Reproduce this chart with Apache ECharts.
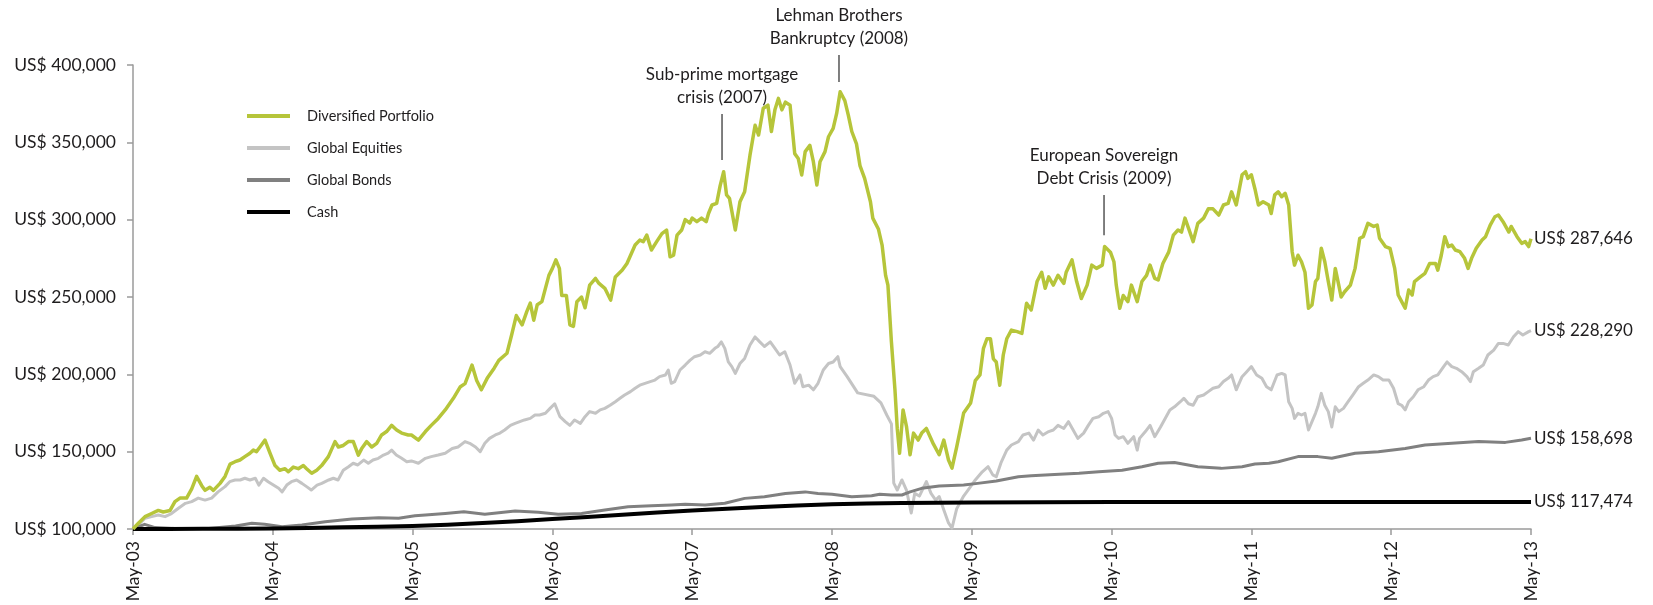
<!DOCTYPE html>
<html><head><meta charset="utf-8">
<script src="https://cdn.jsdelivr.net/npm/echarts@6/dist/echarts.min.js"></script>
<style>html,body{margin:0;padding:0;background:#fff}#c{width:1653px;height:605px}</style>
</head><body><div id="c"></div>
<script>
// ---- data (months since May-03, values in US$ thousands) ----
const xTickLabels = ['May-03','May-04','May-05','May-06','May-07','May-08','May-09','May-10','May-11','May-12','May-13'];
const yTickLabels = ['US$ 100,000','US$ 150,000','US$ 200,000','US$ 250,000','US$ 300,000','US$ 350,000','US$ 400,000'];
const seriesNames = ['Diversified Portfolio','Global Equities','Global Bonds','Cash'];
const endLabels = ['US$ 287,646','US$ 228,290','US$ 158,698','US$ 117,474'];

const divMonths = [0,0.46,1.03,1.6,2.17,2.6,3.18,3.6,4.03,4.6,5.04,5.46,5.9,6.18,6.6,6.9,7.47,7.9,8.33,8.76,9.18,9.6,10.04,10.33,10.6,10.9,11.33,11.76,12.19,12.6,13.05,13.33,13.76,14.19,14.62,14.9,15.34,15.77,16.19,16.77,17.34,17.63,18.05,18.48,18.91,19.34,19.63,20.06,20.49,20.92,21.34,21.77,22.2,22.63,23.06,23.63,23.9,24.5,25.1,25.6,26.2,26.8,27.5,28.1,28.5,29.1,29.5,29.9,30.4,31,31.4,32.1,32.5,32.9,33.4,33.8,34.1,34.4,34.7,35.1,35.4,35.7,36,36.3,36.6,36.8,37.2,37.5,37.8,38.1,38.5,38.8,39.2,39.7,40,40.5,41,41.4,42,42.4,43.1,43.5,43.8,44.1,44.5,44.95,45.4,45.8,46.1,46.4,46.7,47.1,47.4,47.8,48,48.4,48.8,49.2,49.4,49.7,50.1,50.4,50.7,50.95,51.2,51.7,52.1,52.5,52.96,53.4,53.7,54.1,54.5,54.8,55.1,55.4,55.7,56,56.4,56.8,57.1,57.4,57.7,58.1,58.4,58.7,58.97,59.4,59.7,60.1,60.4,60.7,61.1,61.4,61.7,62.1,62.4,62.8,63.3,63.5,63.98,64.3,64.6,64.8,65.1,65.4,65.6,65.8,66.1,66.4,66.7,67,67.4,67.7,68.1,68.4,68.7,69.2,69.6,70,70.3,70.7,71.3,71.9,72.3,72.7,73,73.3,73.6,73.85,74.1,74.4,74.7,75,75.4,75.9,76.3,76.7,77.1,77.6,78,78.3,78.6,79,79.4,79.9,80.1,80.6,81,81.4,81.9,82.3,82.7,83.2,83.4,83.9,84.2,84.4,84.7,85,85.4,85.7,86.2,86.6,87,87.3,87.7,88,88.4,88.9,89.3,89.7,90,90.3,90.6,91,91.4,91.9,92.3,92.7,93.2,93.6,94,94.3,94.7,95.2,95.5,95.7,96,96.3,96.6,97,97.5,97.7,98,98.3,98.6,98.9,99.2,99.5,99.7,100,100.3,100.6,100.9,101.2,101.5,101.7,102,102.3,102.6,102.9,103.2,103.5,103.7,104,104.5,104.9,105.3,105.6,106,106.5,106.8,107,107.5,107.9,108.3,108.6,108.9,109.2,109.5,109.8,110,110.5,110.9,111.3,111.8,112,112.3,112.6,112.9,113.2,113.5,113.9,114.3,114.6,114.9,115.3,115.8,116.1,116.5,116.9,117.2,117.6,118.1,118.3,118.8,119.2,119.5,119.8,120];
const divValues = [100,103.7,108,110,112,111,112,117.7,120,120,126,134,128,125,127,125,129.5,134,142,143.5,144.6,146.8,149,151,150,153,157.5,149,141,138,139,137,140,139,141,139,136,138,141,146.8,156.5,153,154,156.5,156.5,147.8,152,156.5,153,155.4,160.8,163,167,164,162,160.8,160.8,157.5,163,167,171.5,177,184.5,192,194,206,196,190,197.4,204,209,213.6,225.4,238,232,240.5,246,235,245,247,255.6,264,268.5,274,268.5,251,251,232,231,247,250,243,257.7,262,258.8,255.6,248,263,267.4,271.7,283.6,286.8,285.8,290,280.4,285.8,291,293.3,276,277,290,293.3,300,297.8,301,298.7,301,298.7,304,309.5,310.5,322,331,316,313.8,293.3,311.6,318,341.7,361,354.7,372,374,357,371,378.4,371,376,374,342.7,339.6,328.9,344,348,337.5,322.4,337.5,344,353.6,359,368.7,382.7,377,367.6,357,349,335,326.7,311.6,301,294,283.6,264,257.7,221,190.5,165,149,177,166,148,162,157.5,162,165,160,155,148,157.5,144.6,139.4,153,175,181.5,196,199.6,216.8,223,223,210,208,193,212.5,223,228.6,227.6,226.5,246,241.6,260,266,255.6,263,257.7,264,258.8,266,274,260,249,257.7,270.6,268.5,270.6,282.6,279,272.8,257.7,242.7,251,247,257.7,247,260,264,270.6,262,261,271.7,279,290,293.3,292,301,294.5,285.8,297.6,301,307,307,303,309.5,310.5,318,309.5,329,331,326.7,329,320,309.5,311.6,309.5,304,316,318,314.8,317,309.5,279.3,270.6,277,272.8,266,242.7,244.8,260,262,281.5,272.8,260,248,268.5,257.7,250,253.4,257.7,268.5,288,289,297.6,295.6,296.5,288,282.6,281.5,268.5,251.3,247,242.7,254.5,251.3,260,263,265.3,271.7,271.7,267.4,277,289,282.6,283.6,280.4,279.3,275,268.5,275,281.5,286.8,289,296.5,301.9,303,298.7,292,295.6,289,284.7,285.8,282.6,287.6];

const eqMonths = [0,0.46,1.03,1.6,2.17,2.75,3.3,3.9,4.5,5.04,5.6,6.18,6.75,7.3,7.9,8.3,8.76,9.2,9.6,10.04,10.5,10.8,11.2,11.6,12.05,12.5,12.8,13.2,13.6,14.05,14.5,14.9,15.3,15.8,16.2,16.8,17.2,17.6,18.05,18.5,18.9,19.3,19.8,20.2,20.6,21.06,21.5,21.9,22.2,22.6,23.06,23.5,23.9,24.5,25.1,25.6,26.2,26.8,27.4,27.9,28.5,28.9,29.4,29.8,30.2,30.6,31.1,31.5,31.9,32.4,32.8,33.2,33.6,34.1,34.5,34.9,35.4,35.8,36.2,36.65,37.1,37.5,37.9,38.4,38.8,39.2,39.7,40.1,40.5,40.95,41.4,41.8,42.2,42.7,43.1,43.5,43.95,44.4,44.8,45.2,45.7,45.95,46.2,46.5,46.95,47.4,47.8,48.2,48.7,49.1,49.5,49.95,50.2,50.5,50.8,51.1,51.4,51.7,52.1,52.5,52.96,53.4,53.8,54.2,54.7,55.1,55.5,55.95,56.4,56.8,57.25,57.5,58,58.4,58.8,59.25,59.7,60.1,60.5,60.7,61.3,62.2,63.6,64.2,64.7,65.1,65.3,65.6,66,66.4,66.8,67.1,67.5,68.1,68.5,68.9,69.2,69.6,70,70.3,70.7,71.3,71.8,72.3,72.9,73.4,73.8,74.1,74.5,75,75.4,76,76.4,76.9,77.3,77.7,78.1,78.6,79,79.4,79.9,80.3,80.7,81.1,81.6,82,82.4,82.9,83.3,83.7,84,84.3,84.6,85,85.4,85.9,86.2,86.4,86.9,87.3,87.7,88.2,88.6,89,89.4,89.9,90.2,90.6,91,91.4,91.9,92.3,92.7,93.2,93.6,94,94.3,94.7,95.2,95.6,96,96.45,96.9,97.3,97.7,98.2,98.6,98.9,99.2,99.5,99.7,100,100.3,100.6,100.9,101.2,101.5,101.7,102,102.3,102.6,102.9,103.2,103.5,103.9,104.3,104.7,105.2,105.6,106,106.5,106.9,107.3,107.8,108.2,108.6,108.9,109.2,109.5,109.9,110.3,110.8,111.2,111.6,112,112.5,112.8,113.2,113.6,114.05,114.5,114.8,115.05,115.5,115.9,116.3,116.8,117.2,117.6,118.05,118.5,118.9,119.3,119.8,120];
const eqValues = [100,102.6,107,108,109,108,110,113.4,116.6,117.7,120,118.7,120,124,127.4,130.6,131.7,131.7,132.8,131.7,132.8,128.4,132.8,130.6,128.4,126.3,124,128.4,130.6,131.7,129.5,127.4,125.2,128.4,129.5,131.7,132.8,131.7,138,140.3,142.5,141.4,144.6,142.5,144.6,145.7,147.8,149,151,147.8,145.7,143.5,144,142.5,145.7,146.8,147.8,149,152,153,156.5,155.4,153,150,155.4,158.6,160.8,162,164,167,168.3,169.4,170.5,171.5,173.7,173.7,174.8,178,181,172.6,169.4,167,170.5,168.3,172.6,175.9,174.8,177,178,180,182.3,184.5,186.6,188.8,191,193,194.2,195.3,196.3,198.5,199.6,202.8,194.2,195.3,202.8,206,209,211.4,212.5,214.6,213.6,216.8,218,221,216.8,208,205,200.6,207,210.3,219,224.2,221,218,221,216.8,212.5,214.6,206,194.2,199.6,192,193,190,194.2,202.8,207,208,211.4,205,198.5,188,185.8,181.5,173.7,168,129.7,125.2,131.7,125,110.3,123,121.3,130.6,123,118.7,121,112.3,103.9,100.6,113,121.3,126.5,131.7,137,140.3,135,133.8,142.7,151,154.3,156.5,160.8,162,157.5,164,160.8,163,164,167,165,169.4,164,158.6,162,167,171.5,172.6,174.8,175.9,171.5,160.8,158.6,159.7,155.4,159.7,151,158.6,163,167,159.7,166,171.5,177,179,182.3,184.5,181,180,185.5,186.6,188.8,191,192,195.3,197.4,199.6,190,198.5,201.7,205,199.6,197.4,192,190,199.6,200.6,199.6,182.3,178,171.5,174.8,173.7,174.8,164,169.4,174.8,179,187.7,180,175.9,166,179,175.9,178,182.3,186.6,192,194.2,196.3,199.6,198.5,196.3,196.3,191,181,180,177,182.3,185.5,190,192,196.3,198.5,199.6,205,208,205,203.9,201.7,198.5,195.3,201.7,203.9,206,212.5,215.7,220,220,219,224.3,227.6,225.4,227.6,228.3];

const bondMonths = [0,1,1.9,3.6,6.5,8.8,10.2,11.3,12.8,14.5,16.5,18.8,21.1,22.8,24.2,25.1,26.8,28.4,30.2,32.8,34.8,36.5,38.5,40.5,42.5,44.5,46.2,47.4,49.1,50.8,52.5,54.2,56,57.7,58.8,60,61.7,63.4,64.1,65.1,66,66.7,67.7,69.2,71.3,72.5,74.1,76,77.1,79.1,81.2,82.9,84.9,86.6,88,89.4,91.4,93.4,95.2,96.3,97.5,98.3,100,101.7,102.9,104.9,106.9,109.2,110.9,113.2,115.5,117.8,119.2,120];
const bondValues = [100,103,100.9,100.4,100.4,102,103.7,103,101.5,102.6,104.7,106.5,107.3,106.9,108.5,109,110,111.2,109.5,111.6,110.8,109.5,110,112.3,114.4,115,115.5,116,115.5,116.6,119.8,120.9,123,124,123,122.4,120.9,121.5,122.5,122,122,124,126.3,127.8,128.4,129.5,131,133.8,134.5,135.3,136,137,138,140.3,142.5,143,140.3,139.2,140.3,142,142.5,143.5,146.8,146.8,145.7,149,150,152,154.3,155.4,156.5,156,157.5,158.7];

const cashMonths = [0,3,6,9,12,15,18,21,24,27,30,33,36,39,42,45,48,51,54,57,60,63,66,69,72,78,84,90,96,102,108,114,120];
const cashValues = [100,100,100.1,100.2,100.4,100.7,101.1,101.5,102,102.8,103.8,105,106.4,107.8,109.2,110.6,111.9,113.1,114.2,115.2,116,116.5,116.8,117,117.2,117.3,117.4,117.4,117.4,117.4,117.4,117.45,117.47];

const annoText = ['Sub-prime mortgage\ncrisis (2007)','Lehman Brothers\nBankruptcy (2008)','European Sovereign\nDebt Crisis (2009)'];
const annoMonth = [50.56, 60.6, 83.35];
const annoTop = [368.3, 406.5, 316];
const annoBottom = [338.6, 389, 290];

// ---- chart ----
const FONT = 'Lato';
const TXT = '#1f1d1e';
const AXIS = '#9a9a9a';
const colors = ['#b6c53a','#c4c4c4','#808080','#000000'];
const widths = [3.5, 3, 3, 4];
const monthSets = [divMonths, eqMonths, bondMonths, cashMonths];
const valueSets = [divValues, eqValues, bondValues, cashValues];
const drawOrder = [1, 2, 3, 0];

const chart = echarts.init(document.getElementById('c'), null, {renderer: 'canvas'});
const series = drawOrder.map(i => ({
  name: seriesNames[i],
  type: 'line',
  symbol: 'none',
  showSymbol: false,
  z: 2 + drawOrder.indexOf(i),
  data: monthSets[i].map((m, k) => [m, valueSets[i][k]]),
  lineStyle: {color: colors[i], width: widths[i], join: 'round'},
  itemStyle: {color: colors[i]},
  endLabel: {show: true, formatter: () => endLabels[i], color: TXT, fontSize: 17, fontFamily: FONT, distance: 3}
}));

chart.setOption({
  animation: false,
  backgroundColor: '#fff',
  textStyle: {fontFamily: FONT},
  grid: {left: 133, right: 122, top: 65, bottom: 76},
  legend: {
    data: seriesNames,
    orient: 'vertical',
    left: 247, top: 108, padding: 0,
    icon: 'rect',
    itemWidth: 43, itemHeight: 4, itemGap: 16,
    textStyle: {fontSize: 14.5, color: TXT, fontFamily: FONT, lineHeight: 16, padding: [0, 0, 0, 12]}
  },
  xAxis: {
    type: 'value', min: 0, max: 120, interval: 12,
    axisLine: {show: true, lineStyle: {color: AXIS, width: 1.5}},
    axisTick: {show: true, length: 6, lineStyle: {color: AXIS, width: 1.5}},
    splitLine: {show: false},
    axisLabel: {rotate: 90, margin: 12, fontSize: 17.5, color: TXT, fontFamily: FONT,
      formatter: v => xTickLabels[Math.round(v / 12)]}
  },
  yAxis: {
    type: 'value', min: 100, max: 400, interval: 50,
    axisLine: {show: true, lineStyle: {color: AXIS, width: 1.5}},
    axisTick: {show: true, length: 6, lineStyle: {color: AXIS, width: 1.5}},
    splitLine: {show: false},
    axisLabel: {margin: 17, fontSize: 17.5, color: TXT, fontFamily: FONT,
      formatter: v => yTickLabels[Math.round((v - 100) / 50)]}
  },
  series: series
});

const graphics = [];
annoText.forEach((t, i) => {
  const p1 = chart.convertToPixel({gridIndex: 0}, [annoMonth[i], annoTop[i]]);
  const p2 = chart.convertToPixel({gridIndex: 0}, [annoMonth[i], annoBottom[i]]);
  graphics.push({type: 'line', shape: {x1: p1[0], y1: p1[1], x2: p2[0], y2: p2[1]},
    style: {stroke: '#555', lineWidth: 1.5}, z: 20});
  graphics.push({type: 'text', x: p1[0], y: p1[1] - 5, z: 20,
    style: {text: t, textAlign: 'center', textVerticalAlign: 'bottom', fontSize: 17,
      lineHeight: 23, fontFamily: FONT, fill: TXT}});
});
chart.setOption({graphic: graphics});
</script></body></html>
